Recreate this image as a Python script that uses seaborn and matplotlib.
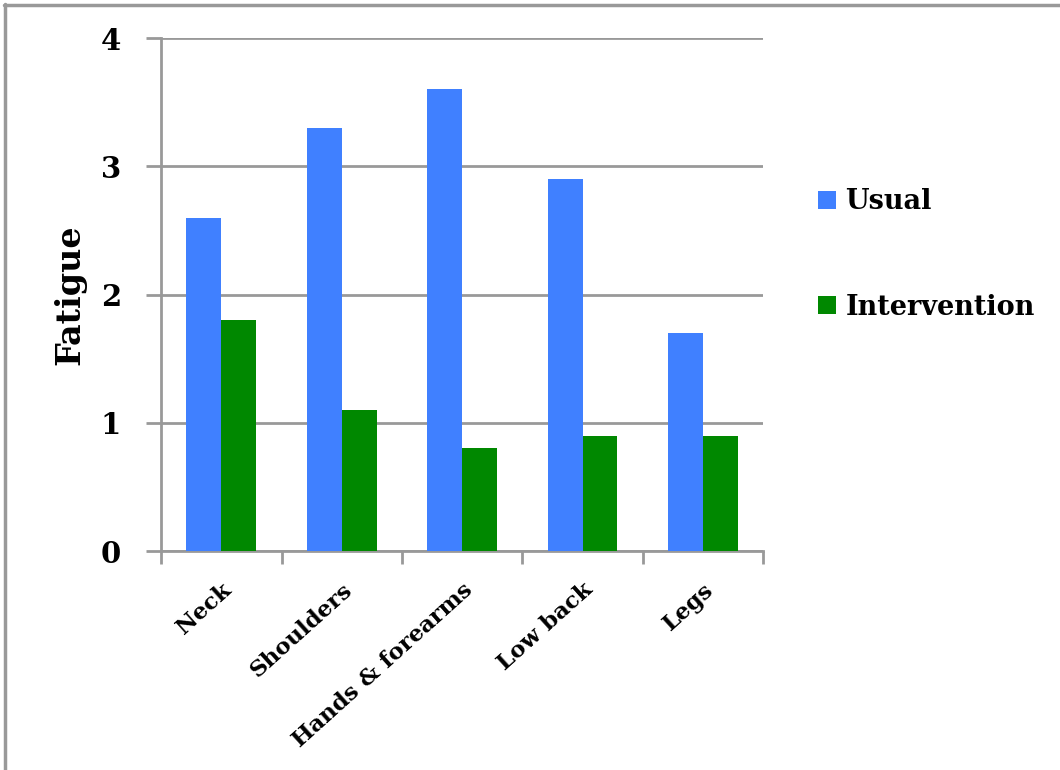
import matplotlib
matplotlib.use("Agg")
import matplotlib.pyplot as plt
import matplotlib.lines as mlines
import numpy as np
import pandas as pd
import seaborn as sns

# Data
regions = ["Neck", "Shoulders", "Hands & forearms", "Low back", "Legs"]
usual = [2.6, 3.3, 3.6, 2.9, 1.7]
intervention = [1.8, 1.1, 0.8, 0.9, 0.9]
series_names = ["Usual", "Intervention"]
y_ticks = [0, 1, 2, 3, 4]

BLUE = "#4080ff"
GREEN = "#008800"
GRID = "#999999"

df = pd.DataFrame(
    {
        "region": regions * 2,
        "value": usual + intervention,
        "series": [series_names[0]] * len(regions) + [series_names[1]] * len(regions),
    }
)

sns.set_theme(style="white")
plt.rcParams["font.family"] = ["DejaVu Serif"]
plt.rcParams["font.weight"] = "bold"
plt.rcParams["text.color"] = "black"
plt.rcParams["xtick.labelcolor"] = "black"
plt.rcParams["ytick.labelcolor"] = "black"
plt.rcParams["axes.labelcolor"] = "black"

fig = plt.figure(figsize=(10.6, 7.7), dpi=100)
ax = fig.add_axes([0.152, 0.2844, 0.568, 0.6662])

sns.barplot(
    data=df,
    x="region",
    y="value",
    hue="series",
    order=regions,
    hue_order=series_names,
    palette=[BLUE, GREEN],
    width=0.58,
    gap=0,
    saturation=1,
    linewidth=0,
    ax=ax,
    zorder=3,
)

ax.set_ylim(0, 4)
ax.set_xlim(-0.5, len(regions) - 0.5)
ax.set_yticks(y_ticks)
ax.set_yticklabels([str(t) for t in y_ticks], fontsize=21, fontweight="bold", color="black")
ax.yaxis.grid(True, color=GRID, linewidth=2)
ax.set_axisbelow(True)

# category boundary ticks on x
ax.set_xticks(range(len(regions)))
ax.set_xticks(np.arange(-0.5, len(regions), 1.0), minor=True)
ax.tick_params(axis="x", which="major", length=0, pad=20)
ax.tick_params(axis="x", which="minor", length=9, width=2, color=GRID, direction="out", bottom=True)
ax.tick_params(axis="y", length=11, width=2, color=GRID, direction="out", left=True, pad=18)
ax.set_xticklabels(regions, rotation=42, ha="right", rotation_mode="anchor",
                   fontsize=16.5, fontweight="bold", color="black")

for side in ["top", "right"]:
    ax.spines[side].set_visible(False)
for side in ["left", "bottom"]:
    ax.spines[side].set_color(GRID)
    ax.spines[side].set_linewidth(2)

ax.set_xlabel("")
ax.set_ylabel("Fatigue", fontsize=24, fontweight="bold", labelpad=10, color="black")

handles, labels = ax.get_legend_handles_labels()
leg = ax.legend(
    handles,
    labels,
    loc="upper left",
    bbox_to_anchor=(0.749, 0.787),
    bbox_transform=fig.transFigure,
    frameon=False,
    prop={"size": 19.5, "weight": "bold"},
    handlelength=0.65,
    handleheight=0.65,
    handletextpad=0.35,
    labelspacing=2.9,
)
for t in leg.get_texts():
    t.set_color("black")

# partial outer frame as in the reference
fig.add_artist(mlines.Line2D([4 / 1060, 1], [1 - 5 / 770, 1 - 5 / 770], color=GRID, linewidth=2.5, transform=fig.transFigure))
fig.add_artist(mlines.Line2D([5 / 1060, 5 / 1060], [0, 1 - 4 / 770], color=GRID, linewidth=2.5, transform=fig.transFigure))

fig.savefig("out.png", dpi=100, facecolor="white")
